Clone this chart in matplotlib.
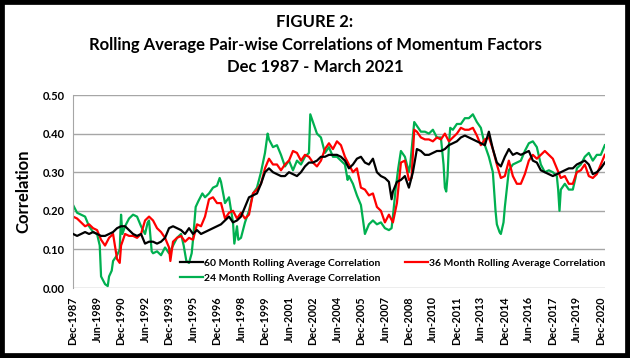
import numpy as np
import matplotlib
matplotlib.use("Agg")
from matplotlib import pyplot as plt
from matplotlib.patches import Rectangle

plt.rcParams['font.family'] = ['Lato', 'DejaVu Sans']

# months since Dec-1987 and rolling correlations
black_m = [0, 3, 6, 9, 12, 15, 18, 21, 24, 27, 30, 33, 36, 39, 42, 45, 48, 51, 54, 57, 60, 63, 66, 69, 72, 75,
           78, 81, 84, 87, 90, 93, 96, 99, 102, 105, 108, 111, 114, 117, 120, 123, 126, 129, 132, 135, 138, 141,
           144, 147, 150, 153, 156, 159, 162, 165, 168, 171, 174, 177, 180, 183, 186, 189, 192, 195, 198, 201,
           204, 207, 210, 213, 216, 219, 222, 225, 228, 231, 234, 237, 239, 240, 243, 246, 249, 252, 255, 258,
           261, 264, 267, 270, 273, 276, 279, 282, 285, 288, 291, 294, 297, 300, 303, 306, 309, 312, 315, 318,
           321, 324, 327, 330, 333, 336, 339, 342, 345, 348, 351, 354, 357, 360, 363, 366, 369, 372, 375, 378,
           381, 384, 387, 390, 393, 396, 399]
black_v = [.14, .135, .14, .145, .14, .145, .14, .135, .135, .14, .145, .155, .16, .16, .15, .14, .135, .14, .115,
           .12, .12, .115, .12, .13, .155, .16, .155, .15, .14, .155, .14, .15, .14, .145, .15, .155, .16, .165,
           .175, .185, .17, .175, .185, .21, .235, .24, .245, .27, .30, .31, .30, .295, .29, .29, .30, .295, .29,
           .30, .315, .325, .325, .33, .34, .34, .345, .345, .345, .34, .33, .31, .32, .335, .34, .325, .32, .335,
           .30, .29, .285, .275, .23, .25, .275, .28, .29, .26, .30, .36, .355, .345, .345, .35, .355, .355, .36,
           .37, .375, .38, .39, .395, .39, .385, .38, .375, .37, .405, .36, .325, .315, .34, .36, .345, .35, .345,
           .35, .355, .33, .325, .305, .30, .295, .29, .295, .30, .305, .31, .31, .32, .325, .33, .32, .295, .30,
           .31, .325]

red_m = [0, 3, 6, 9, 12, 15, 18, 21, 24, 27, 30, 33, 35, 36, 39, 42, 45, 48, 51, 54, 57, 60, 63, 66, 69, 72, 73,
         75, 78, 81, 84, 87, 90, 93, 96, 99, 102, 105, 108, 111, 114, 117, 120, 123, 126, 129, 132, 135, 138, 141,
         144, 147, 150, 153, 156, 159, 162, 165, 168, 171, 174, 177, 180, 183, 186, 189, 192, 195, 198, 201, 204,
         207, 210, 213, 216, 219, 222, 225, 228, 231, 234, 237, 240, 243, 246, 249, 252, 254, 256, 258, 261, 264,
         267, 270, 273, 276, 279, 282, 285, 288, 291, 294, 297, 300, 303, 306, 309, 312, 315, 318, 321, 324, 327,
         330, 333, 336, 339, 342, 345, 348, 351, 354, 357, 360, 363, 366, 369, 372, 375, 378, 381, 384, 387, 390,
         393, 396, 399]
red_v = [.185, .18, .17, .16, .165, .155, .15, .125, .11, .13, .14, .075, .065, .11, .14, .135, .135, .13, .14,
         .175, .185, .175, .155, .145, .13, .105, .07, .12, .13, .135, .12, .13, .125, .165, .16, .185, .23, .235,
         .22, .22, .18, .195, .20, .18, .195, .18, .19, .245, .255, .27, .31, .335, .32, .32, .305, .32, .33, .355,
         .35, .33, .345, .34, .325, .315, .33, .36, .375, .36, .38, .37, .34, .32, .30, .31, .26, .255, .24, .245,
         .21, .20, .17, .19, .17, .22, .325, .33, .28, .285, .41, .405, .39, .385, .385, .38, .39, .385, .40, .38,
         .39, .40, .415, .41, .41, .415, .395, .37, .385, .39, .36, .32, .285, .29, .33, .29, .27, .27, .295, .33,
         .345, .335, .345, .355, .345, .335, .31, .285, .29, .27, .27, .30, .305, .32, .29, .285, .295, .32, .345]

green_m = [0, 3, 6, 9, 12, 15, 18, 20, 21, 24, 26, 27, 29, 30, 33, 35, 36, 37, 39, 42, 45, 48, 51, 54, 56, 57, 59,
           60, 63, 66, 69, 72, 75, 78, 81, 83, 85, 87, 89, 90, 92, 94, 97, 99, 102, 105, 108, 110, 111, 114, 117,
           120, 121, 123, 124, 126, 129, 132, 135, 138, 141, 144, 146, 147, 150, 153, 156, 159, 162, 165, 168, 171,
           174, 177, 178, 180, 183, 186, 189, 192, 195, 198, 201, 204, 206, 207, 210, 213, 216, 219, 222, 225, 228,
           231, 234, 237, 239, 240, 242, 244, 246, 249, 252, 253, 256, 258, 261, 264, 267, 270, 273, 276, 278, 279,
           280, 281, 282, 283, 285, 288, 291, 294, 297, 300, 303, 306, 309, 312, 315, 316, 317, 318, 320, 321, 323,
           324, 326, 327, 330, 333, 336, 339, 342, 345, 348, 351, 354, 357, 360, 363, 364, 365, 366, 369, 372, 375,
           377, 378, 381, 384, 387, 390, 393, 396, 399]
green_v = [.215, .195, .19, .185, .16, .145, .14, .11, .03, .01, .005, .03, .045, .07, .085, .10, .19, .14, .16,
           .18, .19, .185, .16, .14, .17, .175, .095, .09, .095, .085, .105, .09, .11, .13, .14, .11, .07, .065,
           .09, .125, .21, .225, .245, .235, .245, .26, .265, .285, .275, .22, .235, .17, .115, .16, .125, .13, .17,
           .20, .245, .26, .30, .35, .40, .385, .365, .37, .345, .315, .33, .305, .33, .32, .34, .35, .45, .43, .40,
           .39, .35, .365, .34, .34, .33, .32, .28, .29, .27, .24, .215, .14, .165, .175, .165, .17, .155, .15,
           .155, .185, .255, .31, .355, .34, .30, .32, .43, .42, .405, .405, .40, .41, .39, .39, .32, .26, .25, .29,
           .37, .415, .41, .425, .425, .44, .44, .45, .43, .415, .37, .34, .30, .25, .20, .165, .145, .14, .17, .21,
           .275, .305, .32, .325, .33, .355, .375, .38, .365, .32, .30, .305, .30, .29, .255, .20, .255, .27, .255,
           .255, .285, .31, .32, .34, .35, .33, .345, .345, .37]

tick_labels = ['Dec-1987', 'Jun-1989', 'Dec-1990', 'Jun-1992', 'Dec-1993', 'Jun-1995', 'Dec-1996', 'Jun-1998',
               'Dec-1999', 'Jun-2001', 'Dec-2002', 'Jun-2004', 'Dec-2005', 'Jun-2007', 'Dec-2008', 'Jun-2010',
               'Dec-2011', 'Jun-2013', 'Dec-2014', 'Jun-2016', 'Dec-2017', 'Jun-2019', 'Dec-2020']

fig = plt.figure(figsize=(6.3, 3.58), dpi=100)
ax = fig.add_axes([0.116, 0.1955, 0.844, 0.5391])

ax.plot(black_m, black_v, color='black', lw=1.6, label='60 Month Rolling Average Correlation', zorder=3)
ax.plot(green_m, green_v, color='#00B050', lw=1.6, label='24 Month Rolling Average Correlation', zorder=2)
ax.plot(red_m, red_v, color='#FF0000', lw=1.6, label='36 Month Rolling Average Correlation', zorder=2.5)

ax.set_xlim(0, 399)
ax.set_ylim(0, 0.5)
ax.set_yticks(np.arange(0, 0.51, 0.1))
ax.set_yticklabels(['%.2f' % v for v in np.arange(0, 0.51, 0.1)], fontsize=8, fontweight='bold')
ax.set_xticks(np.arange(0, len(tick_labels) * 18, 18))
ax.set_xticklabels(tick_labels, rotation=90, fontsize=7.8, fontweight='bold')
ax.tick_params(length=0, pad=6)
ax.grid(axis='y', color='#A6A6A6', lw=1)
ax.set_axisbelow(True)
for s in ['top', 'right', 'bottom']:
    ax.spines[s].set_visible(False)
ax.spines['left'].set_color('#A6A6A6')
ax.set_ylabel('Correlation', fontsize=12, fontweight='bold', labelpad=8)

handles, labels = ax.get_legend_handles_labels()
leg = ax.legend(handles, labels, ncol=2, loc='lower left', bbox_to_anchor=(0.193, 0.005),
                frameon=False, fontsize=7.5, handlelength=2.2, handletextpad=0.15,
                columnspacing=2.3, labelspacing=0.55, borderaxespad=0)
for t in leg.get_texts():
    t.set_fontweight('bold')

fig.text(0.5, 0.938, 'FIGURE 2:', ha='center', va='center', fontsize=12, fontweight='bold')
fig.text(0.5, 0.875, 'Rolling Average Pair-wise Correlations of Momentum Factors', ha='center', va='center',
         fontsize=12, fontweight='bold')
fig.text(0.5, 0.812, 'Dec 1987 - March 2021', ha='center', va='center', fontsize=12, fontweight='bold')

fig.patches.append(Rectangle((0, 0), 1, 1, transform=fig.transFigure, fill=False, edgecolor='black', lw=7))

fig.savefig('out.png', dpi=100)
